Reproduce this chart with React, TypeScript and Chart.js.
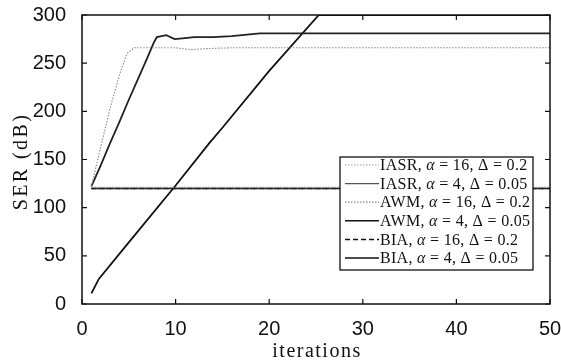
import React, { useEffect, useRef } from "react";
import { Chart, registerables } from "chart.js";

Chart.register(...registerables);

const xTickValues = [0, 10, 20, 30, 40, 50];
const yTickValues = [0, 50, 100, 150, 200, 250, 300];

const iasr16X = [1, 2, 3, 4, 4.8, 5.6, 6, 8, 10, 11.7, 13, 16, 20, 30, 40, 50];
const iasr16Y = [122, 163, 203, 238, 260, 266, 266, 266, 266, 264, 265, 266, 266, 266, 266, 266];

const iasr4X = [1, 2, 3, 4, 5, 6, 7, 7.7, 8, 9, 9.9, 11, 12, 14, 16, 19, 25, 30, 35, 40, 45, 50];
const iasr4Y = [122, 144, 167, 189, 212, 234, 256, 272, 277, 279, 275, 276, 277, 277, 278, 281, 281, 281, 281, 281, 281, 281];

const awm16X = [1, 50];
const awm16Y = [121, 121];

const awm4X = [1, 50];
const awm4Y = [120, 120];

const bia16X = [1, 50];
const bia16Y = [120, 120];

const bia4X = [1, 1.8, 5, 10, 13.6, 15, 20, 25.3, 30, 40, 50];
const bia4Y = [11, 26, 64, 123, 167, 183, 242, 300, 300, 300, 300];

const xTitle = "iterations";
const yTitle = "SER (dB)";

type Seg = [string, boolean];
const legendItems: { name: string; alpha: string; delta: string; color: string; width: number; dash: number[] }[] = [
  { name: "IASR", alpha: "16", delta: "0.2", color: "#9a9a9a", width: 1, dash: [1.5, 1.5] },
  { name: "IASR", alpha: "4", delta: "0.05", color: "#555", width: 1.3, dash: [] },
  { name: "AWM", alpha: "16", delta: "0.2", color: "#888", width: 1.2, dash: [1.5, 1.5] },
  { name: "AWM", alpha: "4", delta: "0.05", color: "#111", width: 1.5, dash: [] },
  { name: "BIA", alpha: "16", delta: "0.2", color: "#111", width: 1.5, dash: [5, 3] },
  { name: "BIA", alpha: "4", delta: "0.05", color: "#111", width: 1.5, dash: [] },
];

const pts = (xs: number[], ys: number[]) => xs.map((x, i) => ({ x, y: ys[i] }));

const SERIF = "'Liberation Serif', 'DejaVu Serif', serif";

const framePlugin = {
  id: "frame",
  afterDatasetsDraw(chart: any) {
    const { ctx, chartArea } = chart;
    const { left, right, top, bottom } = chartArea;
    const xs = chart.scales.x;
    const ys = chart.scales.y;
    ctx.save();
    ctx.strokeStyle = "#111";
    ctx.lineWidth = 1.5;
    ctx.setLineDash([]);
    ctx.strokeRect(left, top, right - left, bottom - top);
    ctx.lineWidth = 1.2;
    const tl = 5;
    xTickValues.forEach((v) => {
      const px = xs.getPixelForValue(v);
      ctx.beginPath();
      ctx.moveTo(px, bottom);
      ctx.lineTo(px, bottom - tl);
      ctx.moveTo(px, top);
      ctx.lineTo(px, top + tl);
      ctx.stroke();
    });
    yTickValues.forEach((v) => {
      const py = ys.getPixelForValue(v);
      ctx.beginPath();
      ctx.moveTo(left, py);
      ctx.lineTo(left + tl, py);
      ctx.moveTo(right, py);
      ctx.lineTo(right - tl, py);
      ctx.stroke();
    });
    ctx.restore();
  },
  afterDraw(chart: any) {
    const { ctx, chartArea } = chart;
    ctx.save();
    // axis titles
    ctx.fillStyle = "#111";
    ctx.textAlign = "center";
    ctx.textBaseline = "alphabetic";
    ctx.font = "20px " + SERIF;
    (ctx as any).letterSpacing = "1.5px";
    ctx.fillText(xTitle, (chartArea.left + chartArea.right) / 2 + 1, 357);
    ctx.save();
    ctx.translate(27, (chartArea.top + chartArea.bottom) / 2 + 2);
    ctx.rotate(-Math.PI / 2);
    ctx.font = "20px " + SERIF;
    (ctx as any).letterSpacing = "2.4px";
    ctx.fillText(yTitle, 0, 0);
    ctx.restore();
    (ctx as any).letterSpacing = "0px";

    // legend
    const bx = 340, by = 157, bw = 193, bh = 113;
    ctx.fillStyle = "#fff";
    ctx.fillRect(bx, by, bw, bh);
    ctx.strokeStyle = "#111";
    ctx.lineWidth = 1.3;
    ctx.setLineDash([]);
    ctx.strokeRect(bx, by, bw, bh);
    const rowH = 18.6;
    legendItems.forEach((it, i) => {
      const y = by + 8 + i * rowH;
      ctx.strokeStyle = it.color;
      ctx.lineWidth = it.width;
      ctx.setLineDash(it.dash);
      ctx.beginPath();
      ctx.moveTo(345, y);
      ctx.lineTo(379, y);
      ctx.stroke();
      ctx.setLineDash([]);
      const segs: Seg[] = [
        [it.name + ", ", false],
        ["α", true],
        [" = " + it.alpha + ", Δ = " + it.delta, false],
      ];
      let x = 380;
      ctx.fillStyle = "#111";
      ctx.textBaseline = "middle";
      ctx.textAlign = "left";
      (ctx as any).letterSpacing = "0.3px";
      segs.forEach(([t, ital]) => {
        ctx.font = (ital ? "italic " : "") + "16px " + SERIF;
        ctx.fillText(t, x, y + 1);
        x += ctx.measureText(t).width;
      });
      (ctx as any).letterSpacing = "0px";
    });
    ctx.restore();
  },
};

export default function App() {
  const ref = useRef<HTMLCanvasElement | null>(null);
  useEffect(() => {
    if (!ref.current) return;
    const mk = (label: string, xs: number[], ys: number[], color: string, width: number, dash: number[]) => ({
      label,
      data: pts(xs, ys),
      borderColor: color,
      backgroundColor: color,
      borderWidth: width,
      borderDash: dash,
      pointRadius: 0,
      tension: 0,
      fill: false,
    });
    const chart = new Chart(ref.current, {
      type: "line",
      data: {
        datasets: [
          mk("AWM16", awm16X, awm16Y, "#888", 1.2, [1.5, 1.5]),
          mk("AWM4", awm4X, awm4Y, "#222", 1.5, []),
          mk("BIA16", bia16X, bia16Y, "#111", 1.5, [5, 3]),
          mk("IASR16", iasr16X, iasr16Y, "#8a8a8a", 1.1, [1.5, 1.5]),
          mk("IASR4", iasr4X, iasr4Y, "#222", 1.8, []),
          mk("BIA4", bia4X, bia4Y, "#111", 1.8, []),
        ],
      },
      options: {
        animation: false,
        responsive: false,
        maintainAspectRatio: false,
        layout: { padding: { top: 15, right: 11, left: 0, bottom: 0 } },
        plugins: { legend: { display: false }, tooltip: { enabled: false } },
        scales: {
          x: {
            type: "linear",
            min: 0,
            max: 50,
            grid: { display: false },
            border: { display: false },
            afterFit: (s: any) => {
              s.height = 56;
              s.paddingLeft = 0;
              s.paddingRight = 0;
            },
            afterBuildTicks: (s: any) => {
              s.ticks = xTickValues.map((v) => ({ value: v }));
            },
            ticks: {
              padding: 5,
              color: "#111",
              font: { family: "'Liberation Sans', Arial, sans-serif", size: 20 },
              maxRotation: 0,
            },
          },
          y: {
            type: "linear",
            min: 0,
            max: 300,
            grid: { display: false },
            border: { display: false },
            afterFit: (s: any) => {
              s.width = 82;
              s.paddingTop = 0;
              s.paddingBottom = 0;
            },
            afterBuildTicks: (s: any) => {
              s.ticks = yTickValues.map((v) => ({ value: v }));
            },
            ticks: {
              padding: 8,
              color: "#111",
              font: { family: "'Liberation Sans', Arial, sans-serif", size: 20 },
            },
          },
        },
      },
      plugins: [framePlugin],
    });
    return () => chart.destroy();
  }, []);
  return (
    <div style={{ position: "fixed", left: 0, top: 0, width: 561, height: 360, background: "#fff" }}>
      <canvas ref={ref} width={561} height={360} style={{ width: 561, height: 360, display: "block" }} />
    </div>
  );
}
